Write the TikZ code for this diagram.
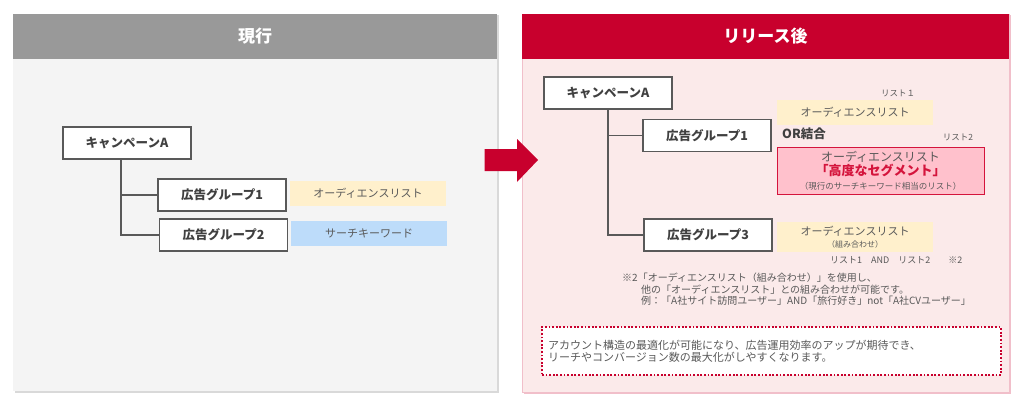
\documentclass[tikz,border=0pt]{standalone}
\usepackage{fontspec}
\setmainfont{Noto Sans CJK JP}
\usetikzlibrary{shadows}
\definecolor{hdgray}{HTML}{999999}
\definecolor{bodygray}{HTML}{F4F4F4}
\definecolor{hdred}{HTML}{C8002D}
\definecolor{bodypink}{HTML}{FBEAEA}
\definecolor{linegray}{HTML}{595959}
\definecolor{txtgray}{HTML}{595959}
\definecolor{txtdark}{HTML}{404040}
\definecolor{audyellow}{HTML}{FFF0CC}
\definecolor{kwblue}{HTML}{BDDCFA}
\definecolor{segpink}{HTML}{FFC1CC}
\definecolor{segred}{HTML}{D4143C}
\tikzset{
  treebox/.style={draw=linegray, line width=1.3pt, fill=white, minimum width=128pt, minimum height=32pt, inner sep=0pt, font=\bfseries\fontsize{12.5}{14}\selectfont, text=txtdark},
  listbox/.style={fill=audyellow, minimum width=156pt, minimum height=25pt, inner sep=0pt, font=\fontsize{11}{13}\selectfont, text=txtgray},
  tag/.style={font=\fontsize{8.5}{10}\selectfont, text=txtgray, inner sep=0pt},
  treeline/.style={draw=linegray, line width=1.3pt},
  paneltitle/.style={text=white, font=\bfseries\fontsize{17}{20}\selectfont, inner sep=0pt},
}
\begin{document}
\begin{tikzpicture}[x=1pt,y=-1pt]
\useasboundingbox (0,0) rectangle (1022,404);
\path[fill=bodygray, drop shadow={shadow xshift=1.5pt, shadow yshift=-1.5pt, opacity=.3}] (13,14) rectangle (497,391);
\fill[hdgray] (13,14) rectangle (497,59);
\node[paneltitle] (titleL) at (255,36.5) {現行};
\path[fill=bodypink, draw=hdred!25, line width=.6pt, drop shadow={shadow xshift=1.5pt, shadow yshift=-1.5pt, fill=hdred, opacity=.25}] (522,14) rectangle (1009,392);
\fill[hdred] (522,14) rectangle (1009,59);
\node[paneltitle] (titleR) at (765.5,36.5) {リリース後};
\fill[hdred] (484.5,149) -- (517,149) -- (517,139) -- (538,160) -- (517,182) -- (517,171) -- (484.5,171) -- cycle;
\node[treebox] (campL) at (127,143) {キャンペーンA};
\node[treebox] (grp1L) at (222,195) {広告グループ1};
\node[treebox] (grp2L) at (223.5,235) {広告グループ2};
\coordinate (trunkL) at ([xshift=-6pt]campL.south);
\draw[treeline] (trunkL) |- (grp1L.west);
\draw[treeline] (trunkL) |- (grp2L.west);
\node[listbox] (audL) at (368,193.5) {オーディエンスリスト};
\node[listbox, fill=kwblue] (kwL) at (369,233.5) {サーチキーワード};
\node[treebox] (campR) at (608,93) {キャンペーンA};
\node[treebox] (grp1R) at (707,135.5) {広告グループ1};
\node[treebox] (grp3R) at (708,235) {広告グループ3};
\draw[treeline] (campR.south) |- (grp1R.west);
\draw[treeline] (campR.south) |- (grp3R.west);
\node[tag] (lst1) at (898,93) {リスト１};
\node[listbox] (audR1) at (855,112.5) {オーディエンスリスト};
\node[anchor=west, inner sep=0pt, font=\bfseries\fontsize{12.5}{14}\selectfont, text=txtdark] (orjoin) at (782,134) {OR結合};
\node[tag] (lst2) at (958,137) {リスト2};
\node[draw=segred, line width=.8pt, fill=segpink, minimum width=207pt, minimum height=47pt, inner sep=0pt, align=center, text=txtgray, font=\fontsize{12}{14}\selectfont] (segR) at (880.5,170.5) {オーディエンスリスト\\{\bfseries\color{segred}\fontsize{13}{14}\selectfont 「高度なセグメント」}\\{\fontsize{8.5}{14}\selectfont （現行のサーチキーワード相当のリスト）}};
\node[listbox, minimum height=30pt, align=center, font=\fontsize{11}{12}\selectfont] (audR3) at (855,237) {オーディエンスリスト\\{\fontsize{8}{12}\selectfont （組み合わせ）}};
\node[tag, anchor=west, font=\fontsize{9}{10}\selectfont] (andnote) at (830,260) {リスト1　AND　リスト2　　※2};
\node[anchor=north west, inner sep=0pt, align=left, text=txtgray, font=\fontsize{10}{11.5}\selectfont] (note2) at (622,273) {※2「オーディエンスリスト（組み合わせ）」を使用し、\\\hspace*{19pt}他の「オーディエンスリスト」との組み合わせが可能です。\\\hspace*{19pt}例：「A社サイト訪問ユーザー」AND「旅行好き」not「A社CVユーザー」};
\node[draw=hdred, line width=1.8pt, dash pattern=on 1.8pt off 1.8pt, fill=white, minimum width=459pt, minimum height=48pt, text width=447pt, inner xsep=6pt, align=left, text=txtgray, font=\fontsize{11}{12}\selectfont] (sumbox) at (771.5,351) {アカウント構造の最適化が可能になり、広告運用効率のアップが期待でき、\\リーチやコンバージョン数の最大化がしやすくなります。};
\end{tikzpicture}
\end{document}
